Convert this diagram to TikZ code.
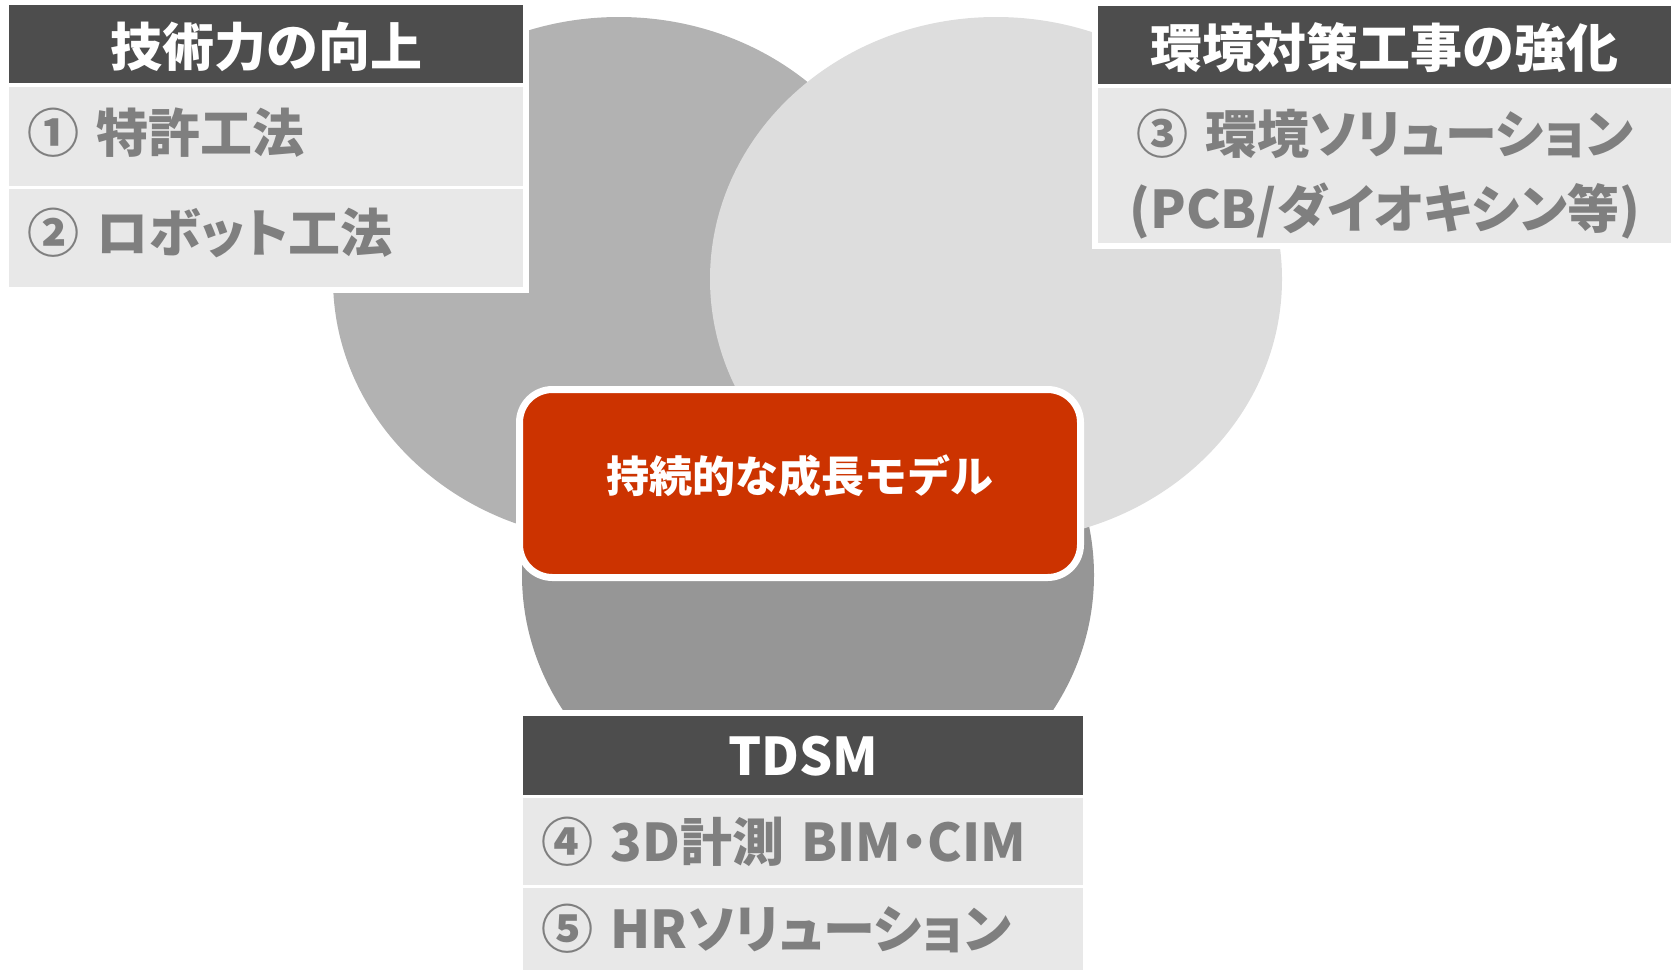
\documentclass[tikz,border=0pt]{standalone}
\usepackage{fontspec}
\setmainfont{Noto Sans CJK JP}
\newfontfamily\bodyfont{Noto Sans CJK JP}[RawFeature=+palt]
\usetikzlibrary{shapes.geometric}
\definecolor{hdrc}{HTML}{4D4D4D}
\definecolor{rowc}{HTML}{E8E8E8}
\definecolor{txtg}{HTML}{7F7F7F}
\definecolor{cLeft}{HTML}{B2B2B2}
\definecolor{cRight}{HTML}{DDDDDD}
\definecolor{cBot}{HTML}{969696}
\definecolor{redc}{HTML}{CC3300}
\begin{document}
\begin{tikzpicture}[x=1pt,y=-1pt,
  blob/.style={ellipse, inner sep=0pt, minimum width=572pt, minimum height=524pt},
  hdrbox/.style={fill=hdrc, text=white, inner xsep=0pt, inner ysep=0pt, anchor=north west,
     align=center, text depth=0pt, font=\fontsize{52}{60}\selectfont\bfseries},
  rowbox/.style={fill=rowc, text=txtg, inner xsep=18pt, inner ysep=0pt, anchor=north west,
     align=left, font=\bodyfont\fontsize{52}{60}\selectfont\bfseries},
  rowcbox/.style={fill=rowc, text=txtg, inner xsep=0pt, inner ysep=0pt, anchor=north west,
     align=center, font=\bodyfont\fontsize{52}{75}\selectfont\bfseries},
  redbox/.style={fill=redc, draw=white, line width=7pt, rounded corners=33pt, text=white,
     inner sep=0pt, text depth=20pt, font=\fontsize{43}{50}\selectfont\bfseries},
]
\useasboundingbox (0,0) rectangle (1671,970);

% circles
\node[blob, fill=cBot]   (cB) at (808,575) {};
\node[blob, fill=cLeft]  (cL) at (619,279) {};
\node[blob, fill=cRight] (cR) at (996,279) {};

% left table
\fill[white] (3,-1) rectangle (529,293);
\node[hdrbox, text width=514pt, minimum height=78pt] (lh) at (9,5) {技術力の向上};
\node[rowbox, text width=478pt, minimum height=99pt, text depth=14pt] (l1) at (9,87) {① 特許工法};
\node[rowbox, text width=478pt, minimum height=98pt, text depth=15pt] (l2) at (9,189) {② ロボット工法};

% right table
\fill[white] (1092,0) rectangle (1671,249);
\node[hdrbox, text width=573pt, minimum height=78pt] (rh) at (1098,6) {環境対策工事の強化};
\node[rowcbox, text width=573pt, minimum height=155pt, text height=61pt] (r1) at (1098,88) {③ 環境ソリューション\\(PCB/ダイオキシン等)};

% center box
\node[redbox, minimum width=561pt, minimum height=188pt] (core) at (800,483.5) {持続的な成長モデル};

% bottom table
\fill[white] (517,710) rectangle (1089,970);
\node[hdrbox, text width=560pt, minimum height=79pt] (bh) at (523,716) {TDSM};
\node[rowbox, text width=524pt, minimum height=87pt] (b1) at (523,798) {④ 3D計測 BIM・CIM};
\node[rowbox, text width=524pt, minimum height=82pt] (b2) at (523,888) {⑤ HRソリューション};
\end{tikzpicture}
\end{document}
